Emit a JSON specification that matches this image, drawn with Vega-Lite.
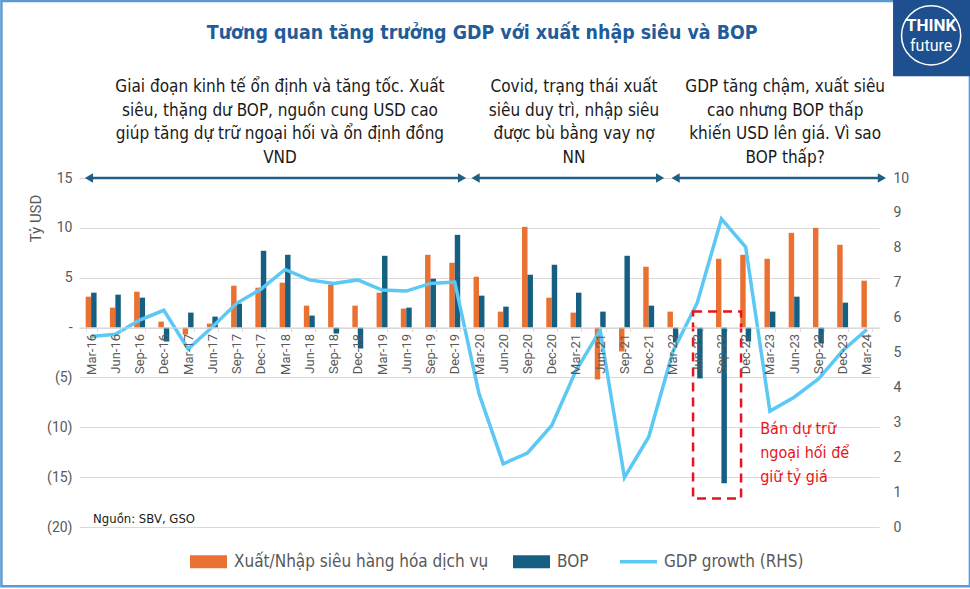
{
  "$schema": "https://vega.github.io/schema/vega-lite/v6.json",
  "width": 800,
  "height": 349,
  "autosize": "none",
  "padding": {"left": 79, "top": 178, "right": 91, "bottom": 62},
  "background": "white",
  "config": {"view": {"stroke": null}, "font": "Liberation Sans Narrow, DejaVu Sans Condensed, Roboto, sans-serif"},
  "datasets": {
    "q": [
      {"q": "Mar-16", "trade": 3.1, "bop": 3.5, "gdp": 5.46},
      {"q": "Jun-16", "trade": 2.0, "bop": 3.3, "gdp": 5.52},
      {"q": "Sep-16", "trade": 3.6, "bop": 3.0, "gdp": 5.93},
      {"q": "Dec-16", "trade": 0.6, "bop": -1.4, "gdp": 6.21},
      {"q": "Mar-17", "trade": -0.7, "bop": 1.5, "gdp": 5.10},
      {"q": "Jun-17", "trade": 0.4, "bop": 1.1, "gdp": 5.73},
      {"q": "Sep-17", "trade": 4.2, "bop": 2.4, "gdp": 6.41},
      {"q": "Dec-17", "trade": 4.0, "bop": 7.7, "gdp": 6.81},
      {"q": "Mar-18", "trade": 4.5, "bop": 7.3, "gdp": 7.38},
      {"q": "Jun-18", "trade": 2.2, "bop": 1.2, "gdp": 7.08},
      {"q": "Sep-18", "trade": 4.3, "bop": -0.6, "gdp": 6.98},
      {"q": "Dec-18", "trade": 2.2, "bop": -2.1, "gdp": 7.08},
      {"q": "Mar-19", "trade": 3.5, "bop": 7.2, "gdp": 6.79},
      {"q": "Jun-19", "trade": 1.9, "bop": 2.0, "gdp": 6.76},
      {"q": "Sep-19", "trade": 7.3, "bop": 4.9, "gdp": 6.98},
      {"q": "Dec-19", "trade": 6.5, "bop": 9.3, "gdp": 7.02},
      {"q": "Mar-20", "trade": 5.1, "bop": 3.2, "gdp": 3.82},
      {"q": "Jun-20", "trade": 1.6, "bop": 2.1, "gdp": 1.81},
      {"q": "Sep-20", "trade": 10.1, "bop": 5.3, "gdp": 2.12},
      {"q": "Dec-20", "trade": 3.0, "bop": 6.3, "gdp": 2.91},
      {"q": "Mar-21", "trade": 1.5, "bop": 3.5, "gdp": 4.48},
      {"q": "Jun-21", "trade": -5.2, "bop": 1.6, "gdp": 5.64},
      {"q": "Sep-21", "trade": -2.4, "bop": 7.2, "gdp": 1.42},
      {"q": "Dec-21", "trade": 6.1, "bop": 2.2, "gdp": 2.58},
      {"q": "Mar-22", "trade": 1.6, "bop": -1.5, "gdp": 5.03},
      {"q": "Jun-22", "trade": 0.1, "bop": -5.1, "gdp": 6.42},
      {"q": "Sep-22", "trade": 6.9, "bop": -15.6, "gdp": 8.83},
      {"q": "Dec-22", "trade": 7.3, "bop": -1.4, "gdp": 8.02},
      {"q": "Mar-23", "trade": 6.9, "bop": 1.6, "gdp": 3.32},
      {"q": "Jun-23", "trade": 9.5, "bop": 3.1, "gdp": 3.72},
      {"q": "Sep-23", "trade": 10.0, "bop": -1.6, "gdp": 4.24},
      {"q": "Dec-23", "trade": 8.3, "bop": 2.5, "gdp": 5.05},
      {"q": "Mar-24", "trade": 4.7, "bop": null, "gdp": 5.66}
    ],
    "arrows": [
      {"a": 0.41, "b": 15.8},
      {"a": 16.36, "b": 23.97},
      {"a": 24.61, "b": 33.12}
    ],
    "notes": [
      {"u": 8.29, "y": 24.9, "lines": ["Giai đoạn kinh tế ổn định và tăng tốc. Xuất", "siêu, thặng dư BOP, nguồn cung USD cao", "giúp tăng dự trữ ngoại hối và ổn định đồng", "VND"]},
      {"u": 20.42, "y": 24.9, "lines": ["Covid, trạng thái xuất", "siêu duy trì, nhập siêu", "được bù bằng vay nợ", "NN"]},
      {"u": 29.13, "y": 24.9, "lines": ["GDP tăng chậm, xuất siêu", "cao nhưng BOP thấp", "khiến USD lên giá. Vì sao", "BOP thấp?"]}
    ],
    "box": [{"x1": 25.33, "x2": 27.31, "y1": 1.6, "y2": -17.15}],
    "red": [{"u": 28.1, "y": -9.4, "lines": ["Bán dự trữ", "ngoại hối để", "giữ tỷ giá"]}],
    "source": [{"u": 0.58, "y": -19.2, "t": "Nguồn: SBV, GSO"}],
    "title": [{"u": 16.63, "y": 29.54, "t": "Tương quan tăng trưởng GDP với xuất nhập siêu và BOP"}],
    "frame": [{"x1": -3.2, "x2": 36.75, "y1": 32.75, "y2": -25.95}],
    "logo": [{"x1": 33.58, "x2": 36.8, "y1": 32.9, "y2": 25.2, "cu": 35.15, "cy": 29.3}],
    "logotext": [{"u": 35.15, "y": 30.2, "t": "THINK", "k": "a"}, {"u": 35.15, "y": 28.25, "t": "future", "k": "b"}]
  },
  "resolve": {"scale": {"x": "independent", "y": "independent"}},
  "layer": [
    {
      "data": {"name": "frame"},
      "mark": {"type": "rect", "fill": null, "fillOpacity": 0, "stroke": "#5B9BD5", "strokeWidth": 2.5},
      "encoding": {
        "x": {"field": "x1", "type": "quantitative", "scale": {"domain": [0, 33], "nice": false, "zero": false}, "axis": null},
        "x2": {"field": "x2"},
        "y": {"field": "y1", "type": "quantitative", "scale": {"domain": [-20, 15], "nice": false, "zero": false}, "axis": null},
        "y2": {"field": "y2"}
      }
    },
    {
      "data": {"name": "q"},
      "transform": [{"fold": ["trade", "bop"], "as": ["series", "value"]}],
      "mark": {"type": "bar"},
      "encoding": {
        "x": {
          "field": "q", "type": "nominal", "sort": null,
          "scale": {"paddingInner": 0.55, "paddingOuter": 0.275},
          "axis": {
            "orient": "bottom", "offset": -199.57, "title": null, "labelAngle": -90,
            "labelFontSize": 13, "labelColor": "#595959", "labelPadding": 2,
            "domainColor": "#D9D9D9", "ticks": true, "tickColor": "#D9D9D9", "tickSize": 4, "tickBand": "extent",
            "grid": false, "zindex": 1, "labelFont": "Roboto"
          }
        },
        "xOffset": {"field": "series", "sort": ["trade", "bop"]},
        "y": {
          "field": "value", "type": "quantitative",
          "scale": {"domain": [-20, 15], "nice": false, "zero": false},
          "axis": {
            "orient": "left", "values": [-20, -15, -10, -5, 0, 5, 10, 15],
            "labelExpr": "datum.value == 0 ? '-' : (datum.value < 0 ? '(' + format(-datum.value, 'd') + ')' : datum.label)",
            "grid": true, "gridColor": "#D9D9D9", "gridWidth": 1.2, "domain": false, "ticks": false,
            "labelFontSize": 14, "labelColor": "#595959", "labelPadding": 7, "labelFont": "Roboto",
            "title": "Tỷ USD", "titleFontSize": 15, "titleColor": "#595959", "titleFontWeight": "normal", "titleFont": "Roboto",
            "titleX": -44, "titleY": 40, "titleAngle": -90, "titleAlign": "center", "titleBaseline": "middle"
          }
        },
        "color": {
          "field": "series", "type": "nominal",
          "scale": {"domain": ["trade", "bop", "gdp"], "range": ["#E97132", "#156082", "#5BC8F5"]},
          "legend": {
            "orient": "none", "legendX": 121, "legendY": 375, "direction": "horizontal", "title": null,
            "labelExpr": "datum.label == 'trade' ? 'Xuất/Nhập siêu hàng hóa dịch vụ' : (datum.label == 'bop' ? 'BOP' : 'GDP growth (RHS)')",
            "labelFontSize": 17, "labelColor": "#595959", "labelOffset": 17, "columnPadding": 24, "labelLimit": 500,
            "symbolSize": 1369,
            "encode": {
              "symbols": {
                "update": {
                  "shape": {"signal": "datum.value === 'gdp' ? 'stroke' : 'M-1,-0.35L1,-0.35L1,0.35L-1,0.35Z'"},
                  "fill": {"signal": "datum.value === 'gdp' ? 'transparent' : scale('color', datum.value)"},
                  "stroke": {"signal": "scale('color', datum.value)"},
                  "strokeWidth": {"signal": "datum.value === 'gdp' ? 3.5 : 0"},
                  "opacity": {"value": 1}
                }
              }
            }
          }
        }
      }
    },
    {
      "data": {"name": "q"},
      "mark": {"type": "line", "strokeWidth": 3.5, "strokeJoin": "miter"},
      "encoding": {
        "x": {"field": "q", "type": "nominal", "sort": null, "axis": null},
        "y": {
          "field": "gdp", "type": "quantitative",
          "scale": {"domain": [0, 10], "nice": false, "zero": false},
          "axis": {
            "orient": "right", "values": [0, 1, 2, 3, 4, 5, 6, 7, 8, 9, 10], "grid": false, "domain": false, "ticks": false,
            "labelFontSize": 14, "labelColor": "#595959", "labelPadding": 14, "title": null, "labelFont": "Roboto"
          }
        },
        "color": {"datum": "gdp"}
      }
    },
    {
      "data": {"name": "arrows"},
      "mark": {"type": "rule", "color": "#1F5F85", "strokeWidth": 2.5},
      "encoding": {
        "x": {"field": "a", "type": "quantitative", "scale": {"domain": [0, 33], "nice": false, "zero": false}, "axis": null},
        "x2": {"field": "b"},
        "y": {"datum": 15, "type": "quantitative", "scale": {"domain": [-20, 15], "nice": false, "zero": false}, "axis": null}
      }
    },
    {
      "data": {"name": "arrows"},
      "transform": [{"fold": ["a", "b"], "as": ["end", "pos"]}],
      "mark": {"type": "point", "filled": true, "color": "#1F5F85", "size": 90, "opacity": 1},
      "encoding": {
        "x": {"field": "pos", "type": "quantitative", "scale": {"domain": [0, 33], "nice": false, "zero": false}, "axis": null},
        "y": {"datum": 15, "type": "quantitative", "scale": {"domain": [-20, 15], "nice": false, "zero": false}, "axis": null},
        "shape": {"field": "end", "type": "nominal", "scale": {"domain": ["a", "b"], "range": ["triangle-left", "triangle-right"]}, "legend": null}
      }
    },
    {
      "data": {"name": "notes"},
      "mark": {"type": "text", "align": "center", "baseline": "top", "fontSize": 17, "lineHeight": 23.5, "color": "#1A1A1A"},
      "encoding": {
        "x": {"field": "u", "type": "quantitative", "scale": {"domain": [0, 33], "nice": false, "zero": false}, "axis": null},
        "y": {"field": "y", "type": "quantitative", "scale": {"domain": [-20, 15], "nice": false, "zero": false}, "axis": null},
        "text": {"field": "lines"}
      }
    },
    {
      "data": {"name": "box"},
      "mark": {"type": "rect", "fill": null, "fillOpacity": 0, "stroke": "#E8141C", "strokeWidth": 2.5, "strokeDash": [9, 6]},
      "encoding": {
        "x": {"field": "x1", "type": "quantitative", "scale": {"domain": [0, 33], "nice": false, "zero": false}, "axis": null},
        "x2": {"field": "x2"},
        "y": {"field": "y1", "type": "quantitative", "scale": {"domain": [-20, 15], "nice": false, "zero": false}, "axis": null},
        "y2": {"field": "y2"}
      }
    },
    {
      "data": {"name": "red"},
      "mark": {"type": "text", "align": "left", "baseline": "top", "fontSize": 16, "lineHeight": 24, "color": "#E8141C"},
      "encoding": {
        "x": {"field": "u", "type": "quantitative", "scale": {"domain": [0, 33], "nice": false, "zero": false}, "axis": null},
        "y": {"field": "y", "type": "quantitative", "scale": {"domain": [-20, 15], "nice": false, "zero": false}, "axis": null},
        "text": {"field": "lines"}
      }
    },
    {
      "data": {"name": "source"},
      "mark": {"type": "text", "align": "left", "baseline": "middle", "fontSize": 13, "color": "#1A1A1A"},
      "encoding": {
        "x": {"field": "u", "type": "quantitative", "scale": {"domain": [0, 33], "nice": false, "zero": false}, "axis": null},
        "y": {"field": "y", "type": "quantitative", "scale": {"domain": [-20, 15], "nice": false, "zero": false}, "axis": null},
        "text": {"field": "t"}
      }
    },
    {
      "data": {"name": "title"},
      "mark": {"type": "text", "align": "center", "baseline": "middle", "fontSize": 19.4, "fontWeight": "bold", "color": "#1F5C99"},
      "encoding": {
        "x": {"field": "u", "type": "quantitative", "scale": {"domain": [0, 33], "nice": false, "zero": false}, "axis": null},
        "y": {"field": "y", "type": "quantitative", "scale": {"domain": [-20, 15], "nice": false, "zero": false}, "axis": null},
        "text": {"field": "t"}
      }
    },
    {
      "data": {"name": "logo"},
      "mark": {"type": "rect", "fill": "#1E4F8F"},
      "encoding": {
        "x": {"field": "x1", "type": "quantitative", "scale": {"domain": [0, 33], "nice": false, "zero": false}, "axis": null},
        "x2": {"field": "x2"},
        "y": {"field": "y1", "type": "quantitative", "scale": {"domain": [-20, 15], "nice": false, "zero": false}, "axis": null},
        "y2": {"field": "y2"}
      }
    },
    {
      "data": {"name": "logo"},
      "mark": {"type": "point", "shape": "circle", "filled": false, "stroke": "white", "strokeWidth": 1.5, "size": 3500, "opacity": 1},
      "encoding": {
        "x": {"field": "cu", "type": "quantitative", "scale": {"domain": [0, 33], "nice": false, "zero": false}, "axis": null},
        "y": {"field": "cy", "type": "quantitative", "scale": {"domain": [-20, 15], "nice": false, "zero": false}, "axis": null}
      }
    },
    {
      "data": {"name": "logotext"},
      "transform": [{"filter": "datum.k == 'a'"}],
      "mark": {"type": "text", "align": "center", "baseline": "middle", "color": "white", "font": "Roboto", "fontSize": 17, "fontWeight": "bold"},
      "encoding": {
        "x": {"field": "u", "type": "quantitative", "scale": {"domain": [0, 33], "nice": false, "zero": false}, "axis": null},
        "y": {"field": "y", "type": "quantitative", "scale": {"domain": [-20, 15], "nice": false, "zero": false}, "axis": null},
        "text": {"field": "t"}
      }
    },
    {
      "data": {"name": "logotext"},
      "transform": [{"filter": "datum.k == 'b'"}],
      "mark": {"type": "text", "align": "center", "baseline": "middle", "color": "white", "font": "Roboto", "fontSize": 16},
      "encoding": {
        "x": {"field": "u", "type": "quantitative", "scale": {"domain": [0, 33], "nice": false, "zero": false}, "axis": null},
        "y": {"field": "y", "type": "quantitative", "scale": {"domain": [-20, 15], "nice": false, "zero": false}, "axis": null},
        "text": {"field": "t"}
      }
    }
  ]
}
